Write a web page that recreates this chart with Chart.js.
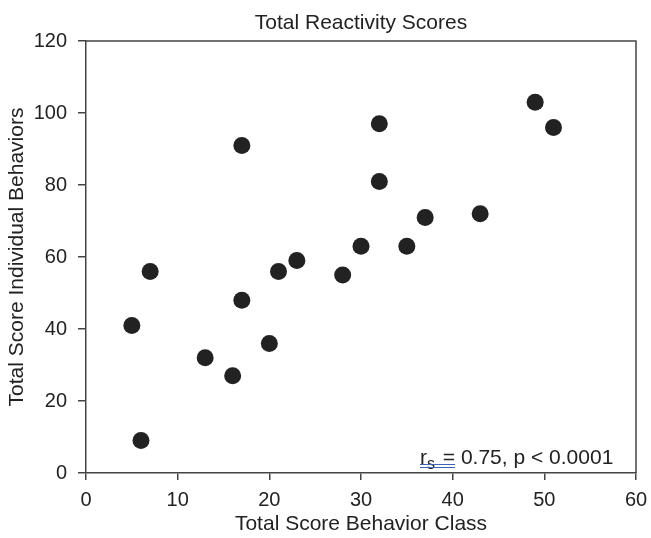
<!DOCTYPE html>
<html>
<head>
<meta charset="utf-8">
<script src="https://cdn.jsdelivr.net/npm/chart.js@4/dist/chart.umd.min.js"></script>
<style>
  html, body { margin: 0; padding: 0; background: #ffffff; }
  #wrap { width: 651px; height: 538px; }
</style>
</head>
<body>
<div id="wrap"><canvas id="chart" width="651" height="538"></canvas></div>
<script>
// Total score per animal: behavior class (x) vs. individual behaviors (y)
const behaviorClass = [5, 6, 7, 13, 16, 17, 17, 20, 21, 23, 28, 30, 32, 32, 35, 37, 43, 49, 51];
const individualBehaviors = [41, 9, 56, 32, 27, 91, 48, 36, 56, 59, 55, 63, 97, 81, 63, 71, 72, 103, 96];

const xTicks = [0, 10, 20, 30, 40, 50, 60];
const yTicks = [0, 20, 40, 60, 80, 100, 120];

const chartTitle = 'Total Reactivity Scores';
const xTitle = 'Total Score Behavior Class';
const yTitle = 'Total Score Individual Behaviors';
const statText = { r: 'r', sub: 's', rest: ' = 0.75, p < 0.0001' };

const ink = '#222222';
const axisColor = '#444444';
const family = '"Liberation Sans", Arial, Helvetica, sans-serif';

const points = behaviorClass.map((x, i) => ({ x, y: individualBehaviors[i] }));

// Closes the plot frame on the top and right sides
const frame = {
  id: 'frame',
  afterDraw(chart) {
    const { ctx, chartArea: a } = chart;
    ctx.save();
    ctx.strokeStyle = axisColor;
    ctx.lineWidth = 1.5;
    ctx.beginPath();
    ctx.moveTo(a.left, a.top);
    ctx.lineTo(a.right, a.top);
    ctx.lineTo(a.right, a.bottom);
    ctx.stroke();
    ctx.restore();
  }
};

// Spearman correlation note in the lower-right corner
const statNote = {
  id: 'statNote',
  afterDraw(chart) {
    const { ctx, chartArea: a } = chart;
    const x0 = a.right - 216;
    const base = a.bottom - 9;
    ctx.save();
    ctx.fillStyle = ink;
    ctx.textBaseline = 'alphabetic';
    ctx.textAlign = 'left';
    ctx.font = '21px ' + family;
    ctx.fillText(statText.r, x0, base);
    const rw = ctx.measureText(statText.r).width;
    ctx.font = '16px ' + family;
    ctx.fillText(statText.sub, x0 + rw, base + 5);
    const sw = ctx.measureText(statText.sub).width + 2;
    ctx.font = '21px ' + family;
    ctx.fillText(statText.rest, x0 + rw + sw, base);
    const eqw = ctx.measureText(' =').width;
    ctx.strokeStyle = '#3f63b5';
    ctx.lineWidth = 1;
    const uEnd = x0 + rw + sw + eqw;
    ctx.beginPath();
    ctx.moveTo(x0, base + 0.5);
    ctx.lineTo(uEnd, base + 0.5);
    ctx.moveTo(x0, base + 3.5);
    ctx.lineTo(uEnd, base + 3.5);
    ctx.stroke();
    ctx.restore();
  }
};

new Chart(document.getElementById('chart'), {
  type: 'scatter',
  data: {
    datasets: [{
      data: points,
      backgroundColor: ink,
      borderWidth: 0,
      pointRadius: 8.5,
      pointHoverRadius: 8.5
    }]
  },
  options: {
    responsive: false,
    animation: false,
    devicePixelRatio: 1,
    layout: { padding: { top: 0, right: 15, bottom: 0, left: 0 } },
    plugins: {
      legend: { display: false },
      tooltip: { enabled: false },
      title: {
        display: true,
        text: chartTitle,
        fullSize: false,
        color: ink,
        font: { family, size: 21, weight: 'normal', lineHeight: 1.2 },
        padding: { top: 11, bottom: 4.8 }
      }
    },
    scales: {
      x: {
        type: 'linear',
        min: 0,
        max: 60,
        afterBuildTicks(scale) { scale.ticks = xTicks.map(v => ({ value: v })); },
        afterFit(scale) {
          scale.height = 65;
          scale.paddingLeft = 0;
          scale.paddingRight = 0;
        },
        border: { display: true, color: axisColor, width: 1.5 },
        grid: { drawOnChartArea: false, drawTicks: true, tickLength: 7, color: axisColor, lineWidth: 1.5 },
        ticks: { color: ink, padding: 8, maxRotation: 0, font: { family, size: 20 } },
        title: {
          display: true,
          text: xTitle,
          color: ink,
          font: { family, size: 21, lineHeight: 1.2 },
          padding: { top: 0, bottom: 1 }
        }
      },
      y: {
        type: 'linear',
        min: 0,
        max: 120,
        afterBuildTicks(scale) { scale.ticks = yTicks.map(v => ({ value: v })); },
        afterFit(scale) { scale.width = 86; },
        border: { display: true, color: axisColor, width: 1.5 },
        grid: { drawOnChartArea: false, drawTicks: true, tickLength: 8, color: axisColor, lineWidth: 1.5 },
        ticks: { color: ink, padding: 11, font: { family, size: 20 } },
        title: {
          display: true,
          text: yTitle,
          color: ink,
          font: { family, size: 21, lineHeight: 1.2 },
          padding: { top: 5, bottom: 0 }
        }
      }
    }
  },
  plugins: [frame, statNote]
});
</script>
</body>
</html>
